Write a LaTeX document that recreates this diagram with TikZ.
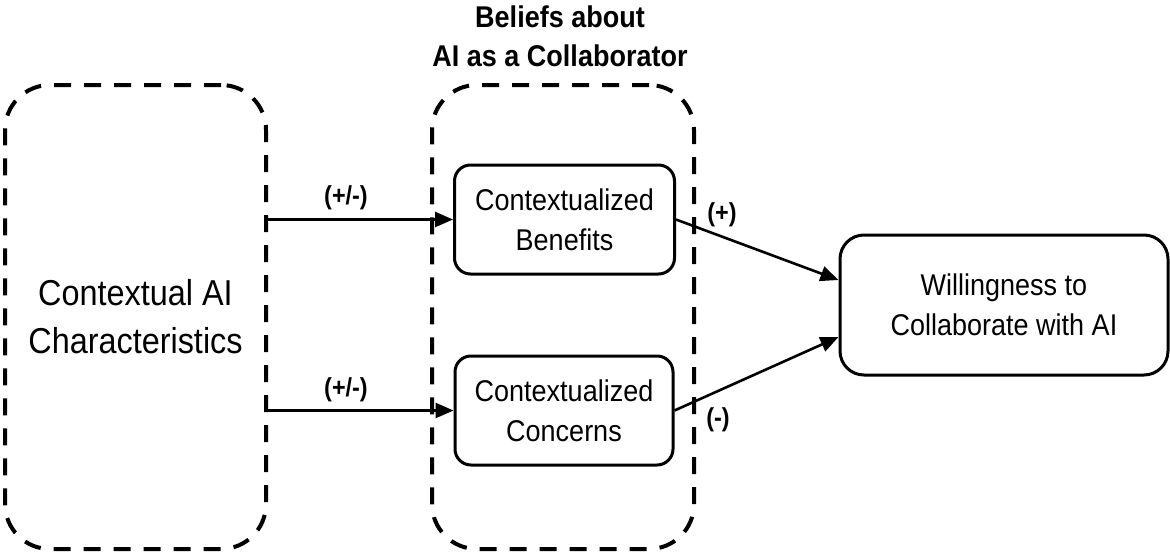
\documentclass[tikz,border=0pt]{standalone}
\usepackage{fontspec}
\setmainfont[FakeStretch=0.9]{Liberation Sans}
\usetikzlibrary{arrows.meta,calc}
\tikzset{
  groupbox/.style={draw, line width=4pt, dash pattern=on 17pt off 13pt, rounded corners=45pt, inner sep=0pt},
  conbox/.style={draw, line width=3pt, rounded corners=16pt, inner sep=0pt, align=center, font=\fontsize{30}{40}\selectfont},
  link/.style={line width=2.6pt, -{Triangle[length=18pt,width=15pt]}},
  sign/.style={font=\bfseries\fontsize{26}{30}\selectfont, inner sep=0pt},
}
\begin{document}
\begin{tikzpicture}[x=1pt,y=-1pt]
\useasboundingbox[fill=white] (0,0) rectangle (1170,554);
\node[groupbox, minimum width=261pt, minimum height=464pt, align=center,
      font=\fontsize{36}{48}\selectfont] (ctx) at (135.5,317) {Contextual AI\\Characteristics};
\node[groupbox, minimum width=262pt, minimum height=464pt] (bel) at (563,317) {};
\node[font=\bfseries\fontsize{30}{39}\selectfont, align=center, inner sep=0pt] (title) at (560,36) {Beliefs about\\AI as a Collaborator};
\node[conbox, minimum width=220pt, minimum height=109pt] (ben) at (564.5,219.5) {Contextualized\\Benefits};
\node[conbox, minimum width=218pt, minimum height=109pt] (con) at (564,410.5) {Contextualized\\Concerns};
\node[conbox, minimum width=328pt, minimum height=140pt, rounded corners=24pt] (will) at (1004,305) {Willingness to\\Collaborate with AI};
\draw[link] (ctx.east |- ben.west) -- (ben.west);
\draw[link] (ctx.east |- con.west) -- (con.west);
\draw[link] (ben.east) -- ([yshift=25pt]will.west);
\draw[link] (con.east) -- ([yshift=-32pt]will.west);
\node[sign] (s1) at (346,198) {(+/-)};
\node[sign] (s2) at (346,390) {(+/-)};
\node[sign] (s3) at (722,215) {(+)};
\node[sign] (s4) at (718,420) {(-)};
\end{tikzpicture}
\end{document}
